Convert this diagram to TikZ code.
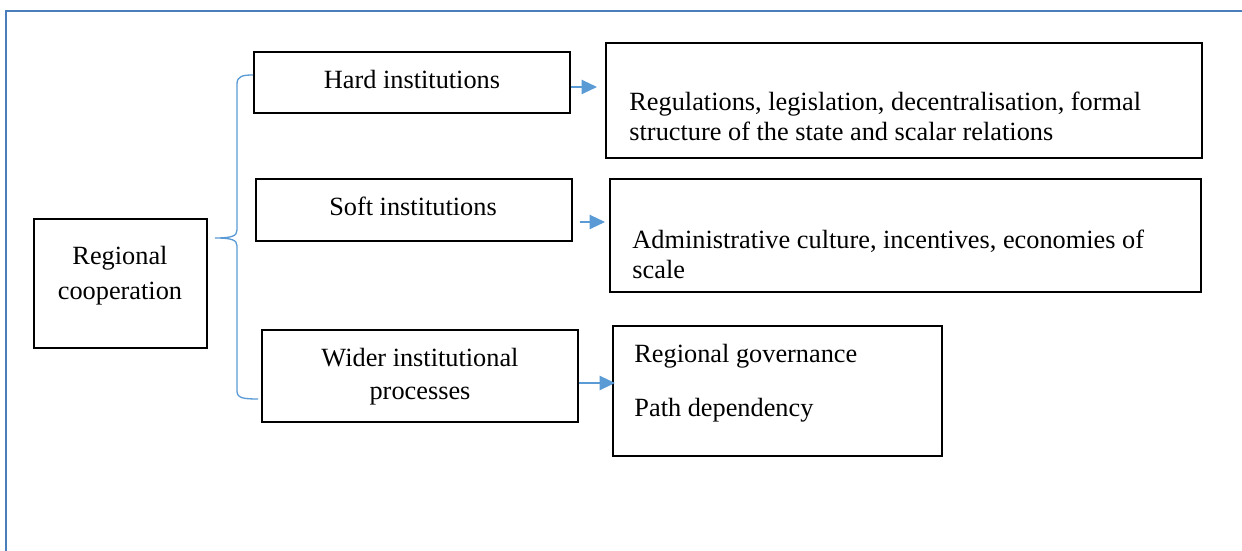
\documentclass[tikz,border=0pt]{standalone}
\usepackage{fontspec}
\setmainfont{Liberation Serif}
\usetikzlibrary{arrows.meta,fit}
\definecolor{framec}{HTML}{4A7EBB}
\definecolor{linkc}{HTML}{5B9BD5}
\begin{document}
\begin{tikzpicture}[x=0.456pt,y=-0.456pt,
  box/.style={draw=black,line width=0.85pt,inner sep=0pt},
  lbl/.style={inner sep=0pt,font=\fontsize{12}{14.1}\selectfont},
  arr/.style={draw=linkc,line width=0.6pt,-{Triangle[length=7pt,width=6.5pt]}},
  bracec/.style={draw=linkc,line width=0.6pt},
  framel/.style={draw=framec,line width=0.8pt}]
\useasboundingbox (0,0) rectangle (1242,551);
\fill[white] (0,0) rectangle (1242,551);
\draw[framel] (1242,11) -- (6,11) -- (6,551);
% boxes
\node[box,fit={(34,219) (207,348)}] (reg) {};
\node[box,fit={(254,52) (570,113)}] (hard) {};
\node[box,fit={(256,179) (572,241)}] (soft) {};
\node[box,fit={(262,330) (578,422)}] (wider) {};
\node[box,fit={(606,43) (1202,158)}] (r1) {};
\node[box,fit={(610,179) (1201,292)}] (r2) {};
\node[box,fit={(613,326) (942,456)}] (r3) {};
% texts (base anchor = baseline of last line)
\node[lbl,anchor=base,align=center,font=\fontsize{12}{16}\selectfont] (regt) at (120,300) {Regional\\cooperation};
\node[lbl,anchor=base] (hardt) at (412,89) {Hard institutions};
\node[lbl,anchor=base] (softt) at (413,216) {Soft institutions};
\node[lbl,anchor=base,align=center,font=\fontsize{12}{15.1}\selectfont] (widert) at (420,400) {Wider institutional\\processes};
\node[lbl,anchor=base west,align=left] (r1t) at (629,141) {Regulations, legislation, decentralisation, formal\\structure of the state and scalar relations};
\node[lbl,anchor=base west,align=left,font=\fontsize{12}{13.9}\selectfont] (r2t) at (632,279) {Administrative culture, incentives, economies of\\scale};
\node[lbl,anchor=base west,align=left,font=\fontsize{12}{25}\selectfont] (r3t) at (634,417) {Regional governance\\Path dependency};
% brace
\coordinate (tip) at (215,238);
\draw[bracec] (hard.west |- 0,75) .. controls (243,75) and (237,76) .. (237,84)
  -- (237,230) .. controls (237,236) and (232,238) .. (tip)
  .. controls (232,238) and (237,240) .. (237,246)
  -- (237,391) .. controls (237,398) and (243,399) .. (258,399);
% arrows
\coordinate (e1) at (597,87);
\coordinate (e2) at (605,222);
\coordinate (e3) at (615,383);
\draw[arr] (hard.east |- e1) -- (e1);
\draw[arr] ([xshift=3pt]soft.east |- e2) -- (e2);
\draw[arr] (wider.east |- e3) -- (e3);
\end{tikzpicture}
\end{document}
